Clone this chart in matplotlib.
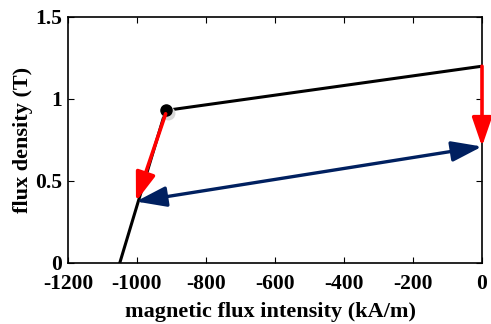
import matplotlib
matplotlib.use("Agg")
import matplotlib.pyplot as plt

# B-H curve (demagnetisation)
h_curve = [-1050, -917, 0]
b_curve = [0.0, 0.93, 1.2]

knee_h = -917
knee_b = 0.93

# red arrows (start -> end)
red_start = [(-917, 0.91), (0, 1.2)]
red_end = [(-1003, 0.375), (0, 0.71)]

# blue double arrow
blue_a = (0, 0.71)
blue_b = (-1003, 0.375)

xticks = [-1200, -1000, -800, -600, -400, -200, 0]
yticks = [0, 0.5, 1, 1.5]

plt.rcParams["font.family"] = "Liberation Serif"
plt.rcParams["font.weight"] = "bold"
plt.rcParams["axes.unicode_minus"] = False

fig = plt.figure(figsize=(4.91, 3.24), dpi=100)
ax = fig.add_axes([68 / 491, 1 - 263 / 324, 414 / 491, 246 / 324])

ax.plot(h_curve, b_curve, color="black", lw=2.2, zorder=3)
ax.plot(knee_h + 7, knee_b - 0.018, "o", color="#d8d8d8", ms=9, zorder=3)
ax.plot(knee_h, knee_b, "o", color="black", ms=8, zorder=4)

for s, e in zip(red_start, red_end):
    ax.annotate("", xy=e, xytext=s,
                arrowprops=dict(arrowstyle="-|>,head_length=1.75,head_width=0.6",
                                color="red", lw=2.6, shrinkA=0, shrinkB=0),
                zorder=5)

ax.annotate("", xy=blue_b, xytext=blue_a,
            arrowprops=dict(arrowstyle="<|-|>,head_length=1.85,head_width=0.62",
                            color="#002060", lw=2.4, shrinkA=0, shrinkB=0),
            zorder=5)

ax.set_xlim(-1200, 0)
ax.set_ylim(0, 1.5)
ax.set_xticks(xticks)
ax.set_yticks(yticks)
ax.set_yticklabels(["0", "0.5", "1", "1.5"])
ax.tick_params(direction="in", top=True, right=True, labelsize=15.5, length=4)
ax.tick_params(axis="x", pad=8)
ax.tick_params(axis="y", pad=4)
ax.set_xlabel("magnetic flux intensity (kA/m)", fontsize=16, fontweight="bold")
ax.set_ylabel("flux density (T)", fontsize=16, fontweight="bold")
ax.xaxis.set_label_coords(0.49, -0.2195)
ax.xaxis.label.set_va("baseline")
ax.yaxis.set_label_coords(-0.109, 0.5)
ax.yaxis.label.set_va("center")
for sp in ax.spines.values():
    sp.set_linewidth(1.2)

fig.savefig("out.png", dpi=100)
